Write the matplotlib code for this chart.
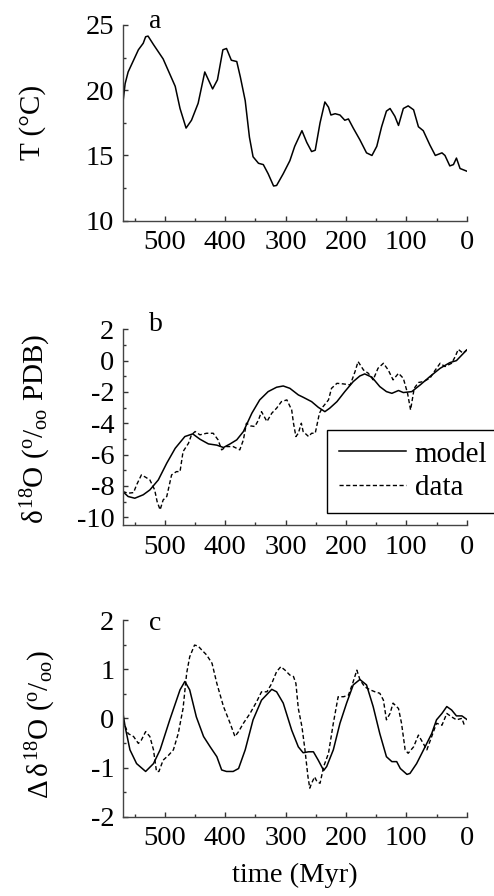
import matplotlib
matplotlib.use("Agg")
import matplotlib.pyplot as plt
from matplotlib.ticker import MultipleLocator

plt.rcParams['font.family'] = 'serif'
plt.rcParams['font.serif'] = ['Liberation Serif', 'DejaVu Serif']
plt.rcParams['mathtext.fontset'] = 'custom'
plt.rcParams['mathtext.rm'] = 'Liberation Serif'
plt.rcParams['mathtext.it'] = 'Liberation Serif'
plt.rcParams['axes.unicode_minus'] = False

# panel a: temperature
t_temp = [570, 566, 561, 552, 544, 536, 532, 528, 519, 503, 483, 475, 465, 456, 445,
          434, 421, 413, 404, 398, 390, 381, 375, 367, 360, 354, 345, 337, 329, 320,
          315, 304, 293, 285, 273, 265, 257, 251, 243, 235, 229, 225, 218, 210, 202,
          196, 188, 177, 166, 157, 149, 141, 133, 127, 119, 113, 105, 97, 88, 80,
          72, 61, 52, 41, 36, 28, 22, 17, 11, 0]
temp = [18.9, 20.5, 21.4, 22.3, 23.1, 23.6, 24.1, 24.15, 23.5, 22.4, 20.3, 18.6, 17.1, 17.7, 19.0,
        21.4, 20.1, 20.8, 23.1, 23.2, 22.3, 22.2, 21.0, 19.2, 16.4, 14.9, 14.4, 14.3, 13.6, 12.66,
        12.7, 13.6, 14.6, 15.7, 16.9, 16.0, 15.3, 15.4, 17.5, 19.1, 18.7, 18.1, 18.2, 18.1, 17.7,
        17.8, 17.1, 16.2, 15.2, 15.0, 15.7, 17.2, 18.4, 18.6, 18.0, 17.3, 18.6, 18.8, 18.5, 17.2,
        16.9, 15.8, 15.0, 15.2, 15.0, 14.2, 14.3, 14.8, 14.0, 13.8]

# panel b: d18O model and data
t_mod_b = [570, 561, 550, 536, 525, 511, 497, 483, 467, 454, 442, 428, 414, 403, 392,
           381, 370, 356, 343, 329, 315, 304, 293, 279, 271, 257, 246, 235, 227, 215,
           202, 188, 177, 169, 157, 144, 133, 124, 113, 105, 91, 77, 61, 44, 28, 17, 8, 0]
mod_b = [-8.36, -8.68, -8.79, -8.57, -8.26, -7.62, -6.55, -5.6, -4.85, -4.68, -5.02, -5.32, -5.4, -5.55, -5.32,
         -5.06, -4.53, -3.36, -2.51, -1.98, -1.70, -1.62, -1.77, -2.19, -2.34, -2.62, -2.98, -3.26, -3.04, -2.62,
         -1.98, -1.34, -0.98, -0.85, -1.06, -1.66, -1.98, -2.09, -1.91, -2.04, -1.98, -1.55, -1.02, -0.49, -0.13, 0.0, 0.36, 0.68]

t_dat_b = [570, 561, 552, 547, 539, 532, 525, 517, 513, 508, 503, 497, 489, 481, 475,
           470, 461, 456, 450, 442, 431, 420, 412, 406, 398, 387, 376, 370, 365, 358,
           351, 345, 340, 331, 323, 315, 307, 298, 290, 287, 283, 279, 274, 271, 262,
           257, 251, 244, 238, 229, 224, 215, 204, 193, 185, 180, 171, 163, 155, 147,
           138, 130, 122, 113, 105, 98, 93, 87, 80, 72, 61, 52, 44, 36, 25,
           19, 14, 6, 0]
dat_b = [-8.36, -8.47, -8.43, -7.94, -7.3, -7.45, -7.62, -8.26, -9.0, -9.53, -8.9, -8.68, -7.3, -7.09, -7.09,
         -5.81, -5.28, -4.74, -4.53, -4.74, -4.64, -4.64, -5.06, -5.7, -5.49, -5.49, -5.7, -5.06, -4.0, -4.17,
         -4.21, -3.79, -3.26, -3.89, -3.36, -3.04, -2.62, -2.51, -3.15, -4.0, -4.85, -4.64, -4.0, -4.53, -4.85,
         -4.64, -4.64, -3.36, -2.94, -2.51, -1.77, -1.45, -1.49, -1.55, -0.70, -0.06, -0.60, -0.81, -1.23, -0.49,
         -0.17, -0.60, -1.23, -0.81, -1.13, -2.09, -3.15, -1.77, -1.40, -1.34, -1.13, -0.60, -0.17, -0.38, -0.17,
         0.26, 0.72, 0.47, 0.68]

# panel c: detrended d18O
t_mod_c = [570, 566, 558, 547, 532, 519, 508, 492, 475, 467, 459, 448, 436, 425, 414,
           406, 398, 387, 378, 367, 354, 340, 323, 315, 304, 290, 279, 271, 262, 254,
           246, 237, 232, 221, 210, 199, 188, 177, 166, 155, 144, 133, 124, 116, 110,
           99, 94, 83, 69, 58, 50, 41, 33, 25, 17, 8, 0]
mod_c = [0.14, -0.17, -0.64, -0.92, -1.08, -0.92, -0.64, -0.03, 0.58, 0.75, 0.58, 0.03, -0.37, -0.58, -0.78,
         -1.05, -1.08, -1.08, -1.02, -0.64, -0.03, 0.37, 0.59, 0.54, 0.31, -0.24, -0.58, -0.70, -0.68, -0.68,
         -0.85, -1.06, -0.98, -0.64, -0.10, 0.31, 0.68, 0.79, 0.68, 0.24, -0.31, -0.78, -0.88, -0.88, -1.02,
         -1.14, -1.12, -0.92, -0.58, -0.31, -0.03, 0.10, 0.24, 0.17, 0.05, 0.05, -0.02]

t_dat_c = [570, 561, 552, 544, 539, 532, 525, 519, 514, 510, 503, 494, 486, 478, 470,
           464, 459, 451, 445, 439, 431, 422, 414, 403, 392, 384, 378, 370, 359, 348,
           340, 331, 323, 315, 308, 301, 293, 287, 283, 279, 273, 268, 263, 260, 257,
           252, 248, 243, 237, 229, 221, 213, 204, 196, 189, 182, 177, 169, 160, 152,
           144, 138, 133, 127, 122, 113, 108, 102, 97, 88, 80, 72, 66, 58, 50,
           41, 33, 25, 17, 8, 3]
dat_c = [-0.03, -0.31, -0.37, -0.51, -0.44, -0.27, -0.37, -0.64, -1.08, -1.08, -0.85, -0.75, -0.64, -0.31, 0.20,
         0.92, 1.25, 1.49, 1.47, 1.39, 1.29, 1.12, 0.71, 0.24, -0.10, -0.37, -0.27, -0.10, 0.10, 0.34,
         0.54, 0.54, 0.71, 0.95, 1.05, 0.98, 0.88, 0.85, 0.71, 0.20, -0.17, -0.64, -1.19, -1.42, -1.32,
         -1.19, -1.29, -1.32, -0.98, -0.71, -0.10, 0.44, 0.44, 0.47, 0.71, 0.98, 0.79, 0.64, 0.58, 0.54,
         0.51, 0.37, -0.03, 0.10, 0.31, 0.20, -0.10, -0.64, -0.71, -0.58, -0.34, -0.51, -0.64, -0.37, -0.10,
         -0.14, 0.10, 0.03, -0.03, 0.0, -0.17]

W, H = 494, 896
fig = plt.figure(figsize=(W / 100, H / 100), dpi=100)

left = 122.7 / W
width = 344 / W

def make_axes(top_px, bot_px):
    ax = fig.add_axes([left, 1 - bot_px / H, width, (bot_px - top_px) / H])
    for s in ['top', 'right']:
        ax.spines[s].set_visible(False)
    for s in ['left', 'bottom']:
        ax.spines[s].set_color('#444444')
        ax.spines[s].set_linewidth(1.0)
    ax.set_xlim(570, 0)
    ax.xaxis.set_major_locator(MultipleLocator(100))
    ax.xaxis.set_minor_locator(MultipleLocator(50))
    ax.tick_params(which='both', direction='in', color='#333333', labelsize=20.5)
    ax.tick_params(which='major', length=3.5, width=1)
    ax.tick_params(which='minor', length=2, width=1)
    ax.tick_params(axis='x', pad=7)
    ax.tick_params(axis='y', pad=6)
    return ax

dash = (3, 1.8)

# a
ax1 = make_axes(25, 220.7)
ax1.plot(t_temp, temp, color='black', lw=1.1)
ax1.set_ylim(10, 25)
ax1.yaxis.set_major_locator(MultipleLocator(5))
ax1.yaxis.set_minor_locator(MultipleLocator(2.5))
ax1.set_ylabel('T (°C)', fontsize=21, va='center')
ax1.yaxis.set_label_coords((33 - 122.7) / 344, 0.5)
ax1.text(0.075, 0.955, 'a', transform=ax1.transAxes, fontsize=20, va='bottom', ha='left')

# b
ax2 = make_axes(329.3, 525)
ax2.plot(t_mod_b, mod_b, color='black', lw=1.1, label='model')
ax2.plot(t_dat_b, dat_b, color='black', lw=1.0, dashes=dash, label='data')
ax2.set_ylim(-10.5, 2)
ax2.yaxis.set_major_locator(MultipleLocator(2))
ax2.yaxis.set_minor_locator(MultipleLocator(1))
ax2.set_ylabel(r'$\delta^{18}\mathrm{O}\ (^{o}/_{oo}\ \mathrm{PDB})$', fontsize=21, va='center')
ax2.yaxis.set_label_coords((36 - 122.7) / 344, 0.49)
ax2.text(0.075, 0.96, 'b', transform=ax2.transAxes, fontsize=20, va='bottom', ha='left')
leg = ax2.legend(loc='lower left', bbox_to_anchor=(327 / W, 1 - 513 / H),
                 bbox_transform=fig.transFigure, borderaxespad=0, fontsize=21,
                 fancybox=False, framealpha=1, edgecolor='black', handlelength=2.3,
                 handletextpad=0.3, labelspacing=0.25, borderpad=0.4)
leg.get_frame().set_linewidth(1.0)

# c
ax3 = make_axes(620, 816.7)
ax3.plot(t_mod_c, mod_c, color='black', lw=1.1)
ax3.plot(t_dat_c, dat_c, color='black', lw=1.0, dashes=dash)
ax3.set_ylim(-2, 2)
ax3.yaxis.set_major_locator(MultipleLocator(1))
ax3.yaxis.set_minor_locator(MultipleLocator(0.5))
ax3.set_ylabel(r'$\Delta\,\delta^{18}\mathrm{O}\ (^{o}/_{oo})$', fontsize=21, va='center')
ax3.yaxis.set_label_coords((41 - 122.7) / 344, 0.47)
ax3.text(0.075, 0.92, 'c', transform=ax3.transAxes, fontsize=20, va='bottom', ha='left')
ax3.set_xlabel('time (Myr)', fontsize=20.5, labelpad=8)

fig.savefig('out.png', dpi=100)
